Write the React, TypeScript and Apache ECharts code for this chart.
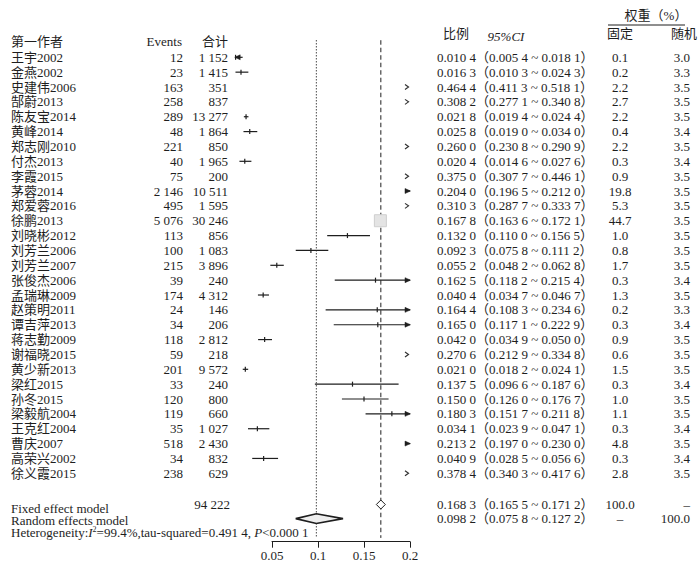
import React, { useEffect, useRef } from 'react';
import * as echarts from 'echarts';

// ---------- data ----------
const authors = [
  '王宇2002', '金燕2002', '史建伟2006', '郜蔚2013', '陈友宝2014', '黄峰2014', '郑志刚2010',
  '付杰2013', '李霞2015', '茅蓉2014', '郑爱蓉2016', '徐鹏2013', '刘晓彬2012', '刘芳兰2006',
  '刘芳兰2007', '张俊杰2006', '孟瑞琳2009', '赵策明2011', '谭吉萍2013', '蒋志勤2009',
  '谢福晓2015', '黄少新2013', '梁红2015', '孙冬2015', '梁毅航2004', '王克红2004', '曹庆2007',
  '高荣兴2002', '徐义霞2015',
];
const events = [12, 23, 163, 258, 289, 48, 221, 40, 75, 2146, 495, 5076, 113, 100, 215, 39, 174, 24, 34, 118, 59, 201, 33, 120, 119, 35, 518, 34, 238];
const totals = [1152, 1415, 351, 837, 13277, 1864, 850, 1965, 200, 10511, 1595, 30246, 856, 1083, 3896, 240, 4312, 146, 206, 2812, 218, 9572, 240, 800, 660, 1027, 2430, 832, 629];
const proportions = [0.0104, 0.0163, 0.4644, 0.3082, 0.0218, 0.0258, 0.2600, 0.0204, 0.3750, 0.2040, 0.3103, 0.1678, 0.1320, 0.0923, 0.0552, 0.1625, 0.0404, 0.1644, 0.1650, 0.0420, 0.2706, 0.0210, 0.1375, 0.1500, 0.1803, 0.0341, 0.2132, 0.0409, 0.3784];
const lowers = [0.0054, 0.0103, 0.4113, 0.2771, 0.0194, 0.0190, 0.2308, 0.0146, 0.3077, 0.1965, 0.2877, 0.1636, 0.1100, 0.0758, 0.0482, 0.1182, 0.0347, 0.1083, 0.1171, 0.0349, 0.2129, 0.0182, 0.0966, 0.1260, 0.1517, 0.0239, 0.1970, 0.0285, 0.3403];
const uppers = [0.0181, 0.0243, 0.5181, 0.3408, 0.0244, 0.0340, 0.2909, 0.0276, 0.4461, 0.2120, 0.3337, 0.1721, 0.1565, 0.1112, 0.0628, 0.2154, 0.0467, 0.2346, 0.2229, 0.0500, 0.3348, 0.0241, 0.1876, 0.1767, 0.2118, 0.0471, 0.2300, 0.0566, 0.4176];
const weightFixed = [0.1, 0.2, 2.2, 2.7, 2.2, 0.4, 2.2, 0.3, 0.9, 19.8, 5.3, 44.7, 1.0, 0.8, 1.7, 0.3, 1.3, 0.2, 0.3, 0.9, 0.6, 1.5, 0.3, 1.0, 1.1, 0.3, 4.8, 0.3, 2.8];
const weightRandom = [3.0, 3.3, 3.5, 3.5, 3.5, 3.4, 3.5, 3.4, 3.5, 3.5, 3.5, 3.5, 3.5, 3.5, 3.5, 3.4, 3.5, 3.3, 3.4, 3.5, 3.5, 3.5, 3.4, 3.5, 3.5, 3.4, 3.5, 3.4, 3.5];

const summaryLabels = ['Fixed effect model', 'Random effects model'];
const summaryEstimates = [0.1683, 0.0982];
const summaryLowers = [0.1655, 0.0758];
const summaryUppers = [0.1712, 0.1272];
const summaryWeightFixed = ['100.0', '–'];
const summaryWeightRandom = ['–', '100.0'];
const summaryTotal = 94222;

const axisMin = 0.05;
const axisMax = 0.2;
const axisStep = 0.05;
const plotFloor = 0.01;

// ---------- style ----------
const FONT = "'Liberation Serif','Times New Roman','Noto Sans CJK SC',serif";
const INK = '#1e1e1e';
const FS = 13;

const fmtInt = (n: number) => String(n).replace(/\B(?=(\d{3})+(?!\d))/g, ' ');
const fmtDec = (v: number) => {
  const s = v.toFixed(4);
  return s.slice(0, -1) + ' ' + s.slice(-1);
};
const ciText = (p: number, lo: number, hi: number) =>
  `${fmtDec(p)}（${fmtDec(lo)} ~ ${fmtDec(hi)}）`;

const txt = (text: string, x: number, y: number, align = 'left', extra: any = {}) => ({
  type: 'text',
  style: {
    text, x, y, align, verticalAlign: 'middle',
    fontSize: FS, fontFamily: FONT, fill: INK, ...extra,
  },
});

// row positions in axis units (y value axis, row index)
const ROW_FIXED = 30.1;
const ROW_RANDOM = 31.05;
const REF_TOP = -1.15;
const REF_BOTTOM = 32.35;

export default function App() {
  const ref = useRef<HTMLDivElement>(null);
  useEffect(() => {
    if (!ref.current) return;
    const chart = echarts.init(ref.current, null, { renderer: 'svg' });

    const option: any = {
      animation: false,
      backgroundColor: '#ffffff',
      grid: { left: 272, top: 57.3, width: 138, height: 416, outerBoundsMode: 'none' },
      xAxis: {
        type: 'value', min: axisMin, max: axisMax, interval: axisStep,
        position: 'bottom', offset: 68.4,
        axisLine: { show: true, onZero: false, lineStyle: { color: INK, width: 1 } },
        axisTick: { show: true, length: 6, lineStyle: { color: INK, width: 1 } },
        splitLine: { show: false },
        axisLabel: {
          fontSize: FS, fontFamily: FONT, color: INK, margin: 7,
          showMinLabel: true, showMaxLabel: true,
          formatter: (v: number) => String(+v.toFixed(2)),
        },
      },
      yAxis: { type: 'value', min: 0, max: 28, inverse: true, show: false },
      graphic: [
        txt('第一作者', 11, 41.7),
        txt('Events', 182, 41.7, 'right'),
        txt('合计', 228, 41.7, 'right'),
        txt('比例', 443, 33.3),
        txt('95%CI', 506, 36, 'center', { fontStyle: 'italic' }),
        txt('权重（%）', 656, 15, 'center'),
        { type: 'line', shape: { x1: 608, y1: 25, x2: 685, y2: 25 }, style: { stroke: INK, lineWidth: 1 } },
        txt('固定', 620, 33.3, 'center'),
        txt('随机', 697, 33.3, 'right'),
        txt(summaryLabels[0], 11, 508.5),
        txt(summaryLabels[1], 11, 520),
        {
          type: 'text',
          style: {
            x: 11, y: 532, verticalAlign: 'middle', align: 'left',
            text: 'Heterogeneity:{i|I}{sup|2}=99.4%,tau-squared=0.491 4, {i|P}<0.000 1',
            fontSize: FS, fontFamily: FONT, fill: INK,
            rich: {
              i: { fontSize: FS, fontFamily: FONT, fontStyle: 'italic', fill: INK },
              sup: { fontSize: 8, fontFamily: FONT, fill: INK, verticalAlign: 'top', padding: [0, 0, 5, 0] },
            },
          },
        },
      ],
      series: [
        // reference lines (random = dotted, fixed = dashed)
        {
          type: 'custom', clip: false, silent: true, z: 1,
          data: [[summaryEstimates[1], 0], [summaryEstimates[0], 1]],
          renderItem: (params: any, api: any) => {
            const x = api.value(0);
            const kind = api.value(1);
            const p1 = api.coord([x, REF_TOP]);
            const p2 = api.coord([x, REF_BOTTOM]);
            return {
              type: 'line',
              shape: { x1: p1[0], y1: p1[1], x2: p2[0], y2: p2[1] },
              style: { stroke: INK, lineWidth: 1, lineDash: kind === 0 ? [1.2, 1.8] : [4.5, 3] },
            };
          },
        },
        // table rows (text)
        {
          type: 'custom', clip: false, silent: true, z: 2,
          data: authors.map((_, i) => [proportions[i], i]),
          renderItem: (params: any, api: any) => {
            const i = api.value(1);
            const y = api.coord([axisMin, i])[1];
            return {
              type: 'group',
              children: [
                txt(authors[i], 11, y),
                txt(fmtInt(events[i]), 183, y, 'right'),
                txt(fmtInt(totals[i]), 228, y, 'right'),
                txt(ciText(proportions[i], lowers[i], uppers[i]), 437, y),
                txt(weightFixed[i].toFixed(1), 620, y, 'center'),
                txt(weightRandom[i].toFixed(1), 690, y, 'right'),
              ],
            };
          },
        },
        // study marks
        {
          type: 'custom', clip: false, silent: true, z: 3,
          data: authors.map((_, i) => [proportions[i], i, lowers[i], uppers[i], weightFixed[i]]),
          renderItem: (params: any, api: any) => {
            const est = api.value(0), row = api.value(1), lo = api.value(2), hi = api.value(3), w = api.value(4);
            const y = api.coord([est, row])[1];
            const px = (v: number) => api.coord([v, row])[0];
            const children: any[] = [];
            if (lo >= axisMax) {
              const x = px(axisMax) - 1.5;
              children.push({
                type: 'polyline',
                shape: { points: [[x - 3.5, y - 2.5], [x, y], [x - 3.5, y + 2.5]] },
                style: { stroke: '#333', lineWidth: 1.2, fill: 'none' },
              });
              return { type: 'group', children };
            }
            const a = Math.max(lo, plotFloor);
            const b = Math.min(hi, axisMax);
            const xa = px(a), xb = px(b);
            children.push({
              type: 'line', shape: { x1: xa, y1: y, x2: xb, y2: y },
              style: { stroke: INK, lineWidth: 1.2 },
            });
            if (hi > axisMax) {
              children.push({
                type: 'polygon', shape: { points: [[xb + 0.5, y], [xb - 5, y - 2.5], [xb - 5, y + 2.5]] },
                style: { fill: INK, stroke: INK, lineWidth: 0.5 },
              });
            }
            if (lo < plotFloor) {
              children.push({
                type: 'polygon', shape: { points: [[xa - 0.5, y], [xa + 5, y - 2.5], [xa + 5, y + 2.5]] },
                style: { fill: INK, stroke: INK, lineWidth: 0.5 },
              });
            }
            if (est >= plotFloor && est <= axisMax) {
              const xe = px(est);
              children.push({
                type: 'line', shape: { x1: xe, y1: y - 2.5, x2: xe, y2: y + 2.5 },
                style: { stroke: INK, lineWidth: 1.2 },
              });
              const side = 12 * Math.sqrt(w / 44.7);
              if (side > 6) {
                children.push({
                  type: 'rect', shape: { x: xe - side / 2, y: y - side / 2, width: side, height: side },
                  style: { fill: '#e4e4e4', stroke: '#cfcfcf', lineWidth: 1 },
                });
              }
            }
            return { type: 'group', children };
          },
        },
        // summary rows
        {
          type: 'custom', clip: false, silent: true, z: 4,
          data: [
            [summaryEstimates[0], ROW_FIXED, summaryLowers[0], summaryUppers[0], 0],
            [summaryEstimates[1], ROW_RANDOM, summaryLowers[1], summaryUppers[1], 1],
          ],
          renderItem: (params: any, api: any) => {
            const est = api.value(0), row = api.value(1), lo = api.value(2), hi = api.value(3), k = api.value(4);
            const [cx, cy] = api.coord([est, row]);
            let l = api.coord([lo, row])[0];
            let r = api.coord([hi, row])[0];
            if (r - l < 9) { l = cx - 4.5; r = cx + 4.5; }
            const h = k === 0 ? 4.5 : 4.8;
            const children: any[] = [
              {
                type: 'polygon',
                shape: { points: [[l, cy], [cx, cy - h], [r, cy], [cx, cy + h]] },
                style: { fill: k === 0 ? '#ffffff' : '#eeeeee', stroke: INK, lineWidth: k === 0 ? 1 : 1.6 },
              },
              txt(ciText(est, lo, hi), 437, cy - 0.5),
              txt(summaryWeightFixed[k], 620, cy - 0.5, 'center'),
              txt(summaryWeightRandom[k], 690, cy - 0.5, 'right'),
            ];
            if (k === 0) children.push(txt(fmtInt(summaryTotal), 230, cy, 'right'));
            return { type: 'group', children };
          },
        },
      ],
    };

    chart.setOption(option);
    return () => chart.dispose();
  }, []);

  return (
    <div
      ref={ref}
      style={{ position: 'fixed', left: 0, top: 0, width: 700, height: 564, background: '#fff' }}
    />
  );
}
